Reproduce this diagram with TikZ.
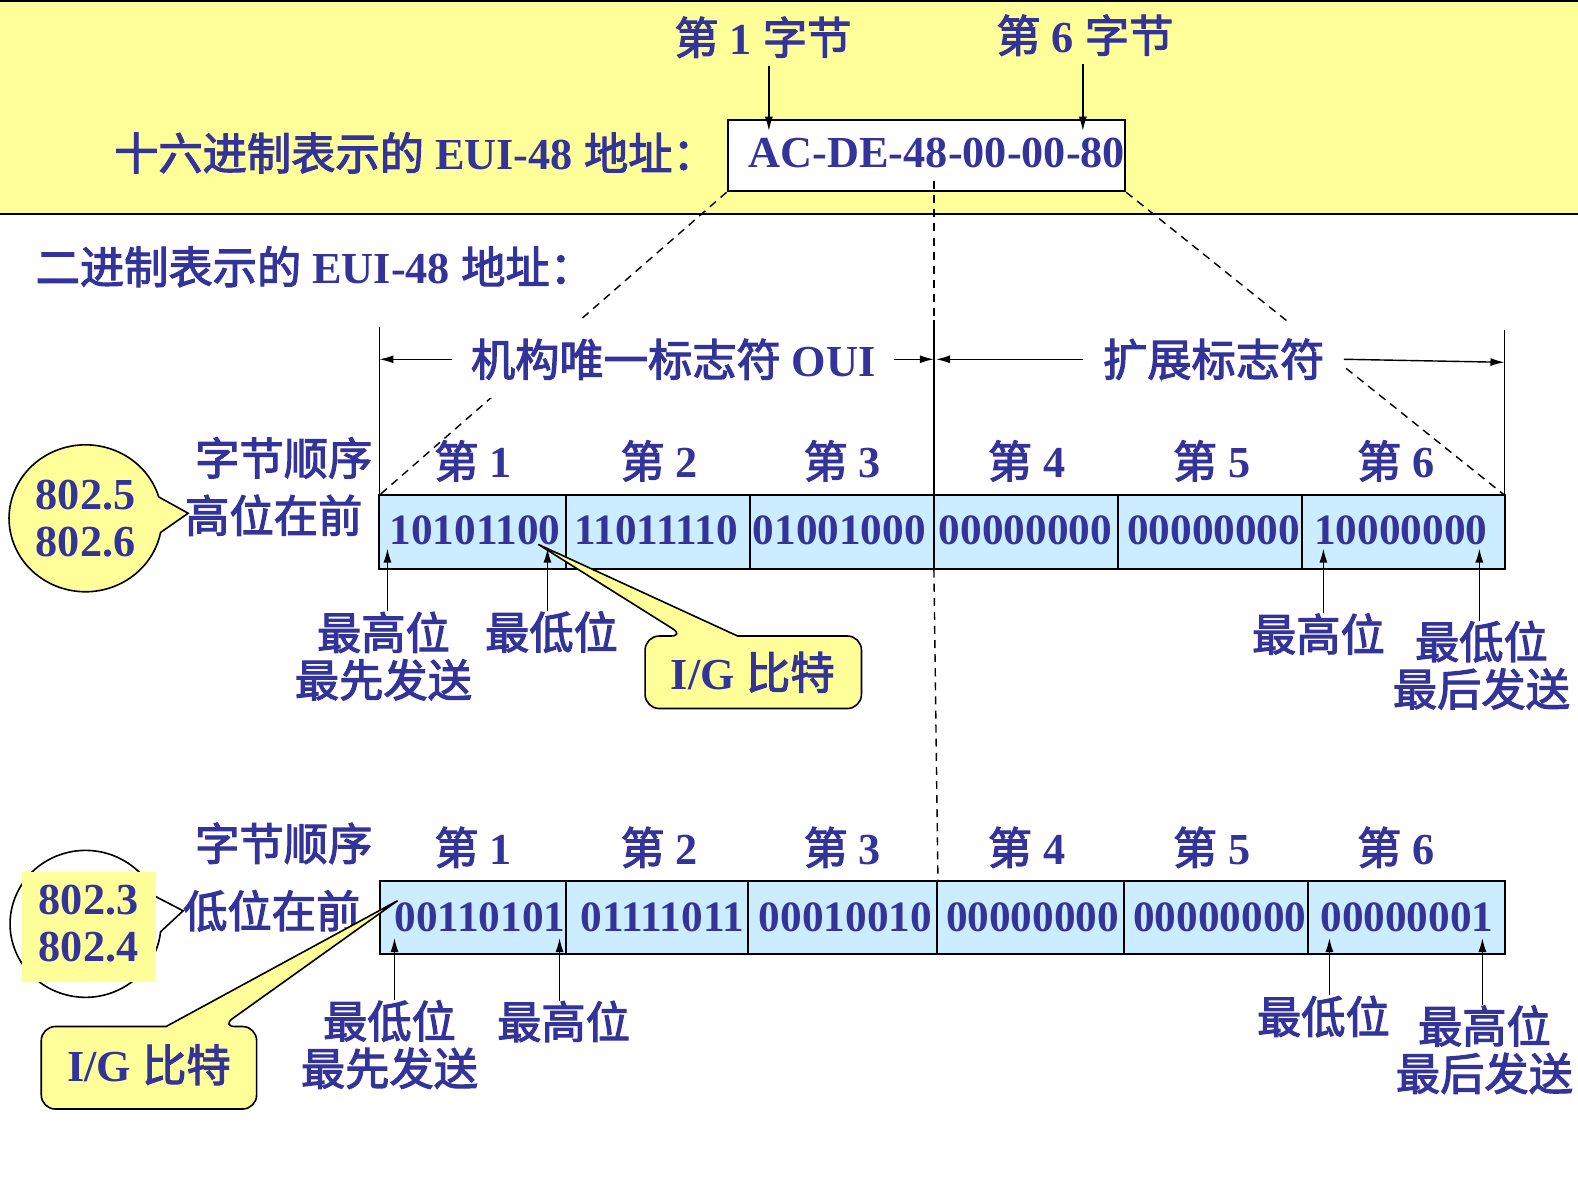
\documentclass[tikz,border=0pt]{standalone}
\usepackage{fontspec}
\setmainfont{Liberation Serif}[BoldFont={* Bold}]
\newfontfamily\cjk{Noto Sans CJK SC}[FakeBold=2.5]
\usetikzlibrary{arrows.meta,shapes.callouts,calc}
\definecolor{tc}{RGB}{51,51,153}
\definecolor{band}{RGB}{255,255,153}
\definecolor{cellblue}{RGB}{204,236,255}
\newcommand\zh[1]{{\cjk\mdseries #1}}
\begin{document}
\begin{tikzpicture}[x=0.5pt,y=-0.5pt,
  txt/.style={font=\fontsize{22}{23.5}\selectfont\bfseries, text=tc, inner sep=0pt},
  bits/.style={font=\fontsize{21.5}{24}\selectfont\bfseries, text=tc, inner sep=0pt},
  arr/.style={-{Latex[length=7pt,width=4pt]}, line width=0.7pt},
  dashln/.style={line width=0.7pt, dash pattern=on 4pt off 3pt},
  bracketln/.style={line width=0.8pt},
  cellbox/.style={draw, line width=1pt, fill=cellblue},
  igshape/.style={draw, line width=0.8pt, fill=band},
  cover/.style={txt, fill=white}
]
\useasboundingbox (0,0) rectangle (1568,1179);

% top band
\fill[band] (0,0) rectangle (1568,213);
\draw[line width=1pt] (0,1) -- (1568,1);
\draw[line width=1pt] (0,213) -- (1568,213);

\node[txt, anchor=west] (hexlab) at (113,152) {\zh{十六进制表示的} EUI-48 \zh{地址：}};
\node[draw, line width=1pt, fill=white, minimum width=197.5pt, minimum height=35.5pt, inner sep=0pt] (hexbox) at (920.5,154.5) {};
\node[txt] (hex) at (931,152) {AC-DE-48-00-00-80};
\node[txt] (b1lab) at (758,37) {\zh{第} 1 \zh{字节}};
\node[txt] (b6lab) at (1078,35) {\zh{第} 6 \zh{字节}};
\coordinate (b1tip) at (764,130);
\coordinate (b6tip) at (1076,130);
\draw[arr, shorten <=4pt] (b1tip |- b1lab.south) -- (b1tip);
\draw[arr, shorten <=4pt] (b6tip |- b6lab.south) -- (b6tip);

\node[txt, anchor=west] (binlab) at (35,265) {\zh{二进制表示的} EUI-48 \zh{地址：}};

% upper row geometry
\coordinate (utl) at (377,492);
\coordinate (utr) at (1495,492);
\coordinate (umid) at (928,492);

% dashed guide lines
\draw[dashln] (hexbox.south west) -- (utl);
\draw[dashln] (hexbox.south east) -- (utr);
\draw[dashln] (928,180) -- (928,318);
\draw[dashln] (928,566) -- (932,875);

% brackets
\draw[bracketln] (377,325) -- (utl);
\draw[bracketln] (928,318) -- (umid);
\draw[bracketln] (1495,328) -- (utr);

% OUI and extension labels (white covers)
\node[cover, minimum width=219pt, minimum height=38.5pt] (oui) at (669,357) {\zh{机构唯一标志符} OUI};
\node[cover, minimum width=129pt, minimum height=38.5pt] (ext) at (1206,357) {\zh{扩展标志符}};
\draw[arr] (oui.west) -- (377,357);
\draw[arr] (oui.east) -- (928,357);
\draw[arr] (ext.west) -- (930,357);
\draw[arr] (ext.east) -- (1495,360);

% upper byte labels
\node[txt] (uh) at (282,455) {\zh{字节顺序}};
\node[txt] (uo) at (272,512) {\zh{高位在前}};
\foreach \n/\x in {1/470,2/655,3/837,4/1020,5/1204,6/1387}
  \node[txt] (ub\n) at (\x,458) {\zh{第} \n};

% upper cells
\draw[cellbox] (377,492) rectangle (562,565);
\draw[cellbox] (562,492) rectangle (745,565);
\draw[cellbox] (745,492) rectangle (928,565);
\draw[cellbox] (928,492) rectangle (1111,565);
\draw[cellbox] (1111,492) rectangle (1294,565);
\draw[cellbox] (1294,492) rectangle (1495,565);
\node[bits] (u1) at (472,527) {10101100};
\node[bits] (u2) at (652,527) {11011110};
\node[bits] (u3) at (834,527) {01001000};
\node[bits] (u4) at (1019,527) {00000000};
\node[bits] (u5) at (1206,527) {00000000};
\node[bits] (u6) at (1392,527) {10000000};

% upper bubble
\node[ellipse callout, draw, line width=0.8pt, fill=band, minimum width=76pt, minimum height=73pt,
      callout absolute pointer={(187,510)}, callout pointer arc=28, txt, align=center] (bub1) at (85,515) {802.5\\802.6};

% upper bit arrows and labels
\node[txt, align=center] (um1) at (381,652) {\zh{最高位}\\\zh{最先发送}};
\node[txt] (um2) at (548,628) {\zh{最低位}};
\node[txt] (um3) at (1310,630) {\zh{最高位}};
\node[txt, align=center] (um4) at (1472,661) {\zh{最低位}\\\zh{最后发送}};
\coordinate (up1) at (385,545);
\coordinate (up2) at (544,545);
\coordinate (up3) at (1315,545);
\coordinate (up4) at (1470,545);
\draw[arr] (up1 |- um1.north) -- (up1);
\draw[arr] (up2 |- um2.north) -- (up2);
\draw[arr] (up3 |- um3.north) -- (up3);
\draw[arr] (up4 |- um4.north) -- (up4);

% upper I/G callout
\coordinate (igtipU) at (535,541);
\draw[igshape] (igtipU) -- (733,632) [rounded corners=7pt] -- (856,632) -- (856,704) -- (641,704) -- (641,632) -- (680,632) [sharp corners] -- cycle;
\node[txt] (igU) at (748,668) {I/G \zh{比特}};

% lower section
\node[txt] (lh) at (282,838) {\zh{字节顺序}};
\node[txt] (lo) at (270,905) {\zh{低位在前}};
\foreach \n/\x in {1/470,2/655,3/837,4/1020,5/1204,6/1387}
  \node[txt] (lb\n) at (\x,842) {\zh{第} \n};

\draw[cellbox] (378,875) rectangle (562,948);
\draw[cellbox] (562,875) rectangle (743,948);
\draw[cellbox] (743,875) rectangle (931,948);
\draw[cellbox] (931,875) rectangle (1117,948);
\draw[cellbox] (1117,875) rectangle (1300,948);
\draw[cellbox] (1300,875) rectangle (1495,948);
\node[bits] (l1) at (477,911) {00110101};
\node[bits] (l2) at (658,911) {01111011};
\node[bits] (l3) at (840,911) {00010010};
\node[bits] (l4) at (1026,911) {00000000};
\node[bits] (l5) at (1212,911) {00000000};
\node[bits] (l6) at (1398,911) {00000001};

% lower bubble
\node[ellipse callout, draw, line width=0.8pt, fill=white, minimum width=75pt, minimum height=73pt,
      callout absolute pointer={(182,905)}, callout pointer arc=28] (bub2) at (85,918) {};
\fill[band] (22,866) rectangle (155,976);
\node[txt, align=center] (bub2t) at (88,918) {802.3\\802.4};

% lower bit arrows and labels
\node[txt, align=center] (lm1) at (387,1038) {\zh{最低位}\\\zh{最先发送}};
\node[txt] (lm2) at (560,1015) {\zh{最高位}};
\node[txt] (lm3) at (1315,1010) {\zh{最低位}};
\node[txt, align=center] (lm4) at (1475,1043) {\zh{最高位}\\\zh{最后发送}};
\coordinate (lp1) at (392,932);
\coordinate (lp2) at (556,932);
\coordinate (lp3) at (1321,932);
\coordinate (lp4) at (1473,932);
\draw[arr] (lp1 |- lm1.north) -- (lp1);
\draw[arr] (lp2 |- lm2.north) -- (lp2);
\draw[arr] (lp3 |- lm3.north) -- (lp3);
\draw[arr] (lp4 |- lm4.north) -- (lp4);

% lower I/G callout
\coordinate (igtipL) at (395,895);
\draw[igshape] (igtipL) -- (165,1020) [rounded corners=7pt] -- (41,1020) -- (41,1102) -- (255,1102) -- (255,1020) -- (220,1020) [sharp corners] -- cycle;
\node[txt] (igL) at (148,1058) {I/G \zh{比特}};
\end{tikzpicture}
\end{document}
